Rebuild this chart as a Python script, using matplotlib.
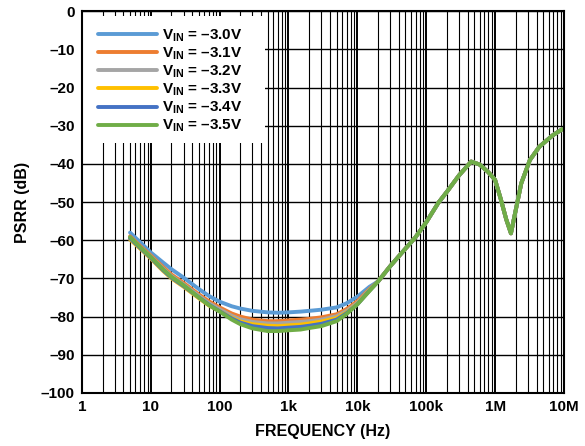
import matplotlib
matplotlib.use("Agg")
import matplotlib.pyplot as plt
from matplotlib.patches import Rectangle
from matplotlib.ticker import FixedLocator, NullFormatter

plt.rcParams['font.family'] = ['Liberation Sans', 'DejaVu Sans']
plt.rcParams['font.weight'] = 'bold'
plt.rcParams['mathtext.fontset'] = 'custom'
plt.rcParams['mathtext.rm'] = 'Liberation Sans:bold'
plt.rcParams['mathtext.bf'] = 'Liberation Sans:bold'
plt.rcParams['mathtext.default'] = 'bf'

# frequency points (Hz), low part differs per supply, tail is shared
freq_low = [5, 7, 10, 15, 20, 30, 50, 70, 100, 150, 200, 300, 500, 700,
            1e3, 1.5e3, 2e3, 3e3, 5e3, 7e3, 1e4, 1.5e4]
freq_tail = [2e4, 3e4, 5e4, 7e4, 1e5, 1.5e5, 2e5, 3e5, 4.5e5, 6e5, 8e5, 1e6,
             1.2e6, 1.45e6, 1.7e6, 1.95e6, 2.4e6, 3.2e6, 4.4e6, 6.9e6, 9.5e6]

psrr_30 = [-58.0, -60.5, -63.2, -65.8, -67.6, -69.8, -72.8, -74.6, -76.1, -77.3, -77.9, -78.5, -78.9, -79.0,
           -78.9, -78.7, -78.5, -78.2, -77.6, -76.5, -74.8, -72.2]
psrr_31 = [-59.0, -61.5, -64.0, -67.0, -69.0, -71.2, -74.2, -76.0, -77.6, -79.2, -80.0, -80.8, -81.2, -81.2,
           -81.0, -80.8, -80.6, -80.2, -79.4, -78.0, -76.0, -72.8]
psrr_32 = [-59.3, -61.8, -64.3, -67.4, -69.4, -71.6, -74.6, -76.5, -78.1, -79.8, -80.7, -81.4, -81.8, -81.8,
           -81.6, -81.4, -81.2, -80.8, -79.9, -78.5, -76.4, -73.0]
psrr_33 = [-59.8, -62.2, -64.8, -68.0, -70.0, -72.2, -75.2, -77.1, -78.6, -80.3, -81.3, -82.0, -82.4, -82.5,
           -82.3, -82.1, -81.8, -81.3, -80.4, -78.9, -76.7, -73.1]
psrr_34 = [-59.5, -62.0, -64.6, -67.8, -69.8, -72.0, -75.0, -76.9, -78.6, -80.5, -81.6, -82.5, -83.0, -83.1,
           -82.9, -82.7, -82.4, -81.9, -80.8, -79.1, -76.8, -73.2]
psrr_35 = [-59.2, -61.8, -64.4, -67.6, -69.6, -71.8, -75.0, -77.0, -78.7, -80.8, -82.0, -83.1, -83.8, -83.8,
           -83.6, -83.4, -83.0, -82.5, -81.2, -79.3, -76.8, -73.3]
psrr_tail = [-70.8, -66.8, -62.2, -59.2, -55.3, -50.2, -47.3, -43.0, -39.4, -40.2, -42.2, -44.2,
             -49.0, -54.5, -58.2, -53.0, -45.1, -39.0, -35.5, -32.5, -30.9]

labels = ['-3.0', '-3.1', '-3.2', '-3.3', '-3.4', '-3.5']
colors = ['#5B9BD5', '#ED7D31', '#A5A5A5', '#FFC000', '#4472C4', '#70AD47']
series = [psrr_30, psrr_31, psrr_32, psrr_33, psrr_34, psrr_35]

x_ticks = [1, 10, 100, 1e3, 1e4, 1e5, 1e6, 1e7]
x_labels = ['1', '10', '100', '1k', '10k', '100k', '1M', '10M']
y_ticks = list(range(-100, 1, 10))

fig = plt.figure(figsize=(5.85, 4.46), dpi=100)
ax = fig.add_axes([0.140, 0.119, 0.824, 0.856])

freq = freq_low + freq_tail
for vals, lab, col in zip(series, labels, colors):
    ax.plot(freq, vals + psrr_tail, color=col, lw=2.8,
            label=r'V$_{IN}$ = ' + lab.replace('-', '\u2013') + 'V', solid_capstyle='round')

ax.set_xscale('log')
ax.set_xlim(1, 1e7)
ax.set_ylim(-100, 0)
ax.set_xticks(x_ticks)
ax.set_xticklabels(x_labels)
minors = [m * d for d in x_ticks[:-1] for m in range(2, 10)]
ax.xaxis.set_minor_locator(FixedLocator(minors))
ax.xaxis.set_minor_formatter(NullFormatter())
ax.set_yticks(y_ticks)
ax.set_yticklabels([str(v).replace('-', '\u2013') for v in y_ticks])

ax.set_axisbelow(True)
ax.grid(which='major', axis='x', color='black', lw=1.4)
ax.grid(which='minor', axis='x', color='black', lw=0.8)
ax.grid(which='major', axis='y', color='black', lw=1.0)
ax.tick_params(which='both', length=0, labelsize=11, pad=5)
for s in ax.spines.values():
    s.set_linewidth(1.5)

# white area behind the legend
ax.add_patch(Rectangle((0, 0.654), 0.38, 0.333, transform=ax.transAxes,
                       facecolor='white', edgecolor='none', zorder=1))
ax.legend(loc='upper left', bbox_to_anchor=(0.033, 0.957), frameon=False,
          borderpad=0, borderaxespad=0, handlelength=3.9, handletextpad=0.3,
          labelspacing=0.11, fontsize=11)

ax.set_xlabel('FREQUENCY (Hz)', fontsize=11.5, fontweight='bold', labelpad=7)
ax.set_ylabel('PSRR (dB)', fontsize=11.5, fontweight='bold', labelpad=8)

fig.savefig('out.png', dpi=100)
